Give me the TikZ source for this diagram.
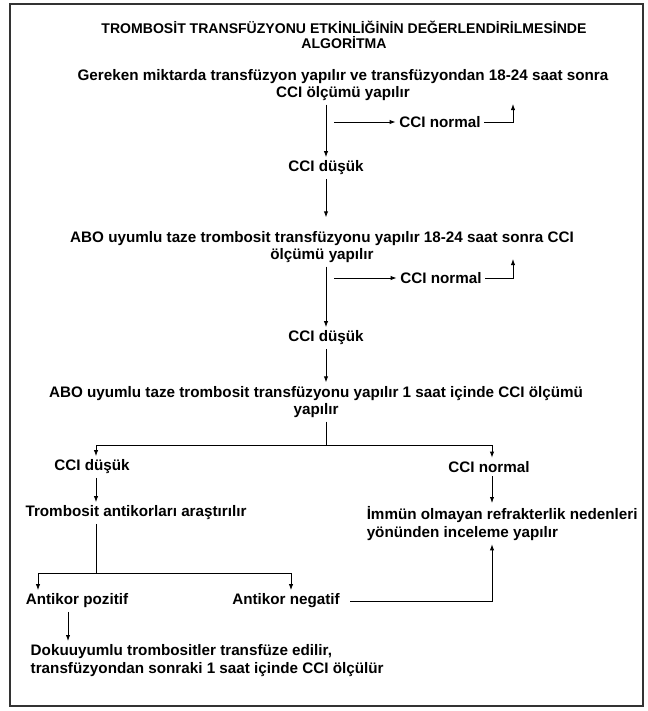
\documentclass[tikz,border=0pt]{standalone}
\usepackage{fontspec}
\setmainfont{Liberation Sans}
\usetikzlibrary{arrows.meta,positioning}

\begin{document}
\begin{tikzpicture}[x=0.3mm, y=-0.3mm,
  titletext/.style={align=center, font=\fontsize{12}{13}\selectfont\bfseries, inner sep=2pt},
  steptext/.style={align=center, font=\fontsize{13}{15}\selectfont\bfseries, inner sep=3pt},
  lefttext/.style={align=left, font=\fontsize{13}{15}\selectfont\bfseries, inner sep=3pt},
  flowarrow/.style={-{Latex[length=1.8mm,width=1.3mm]}, line width=0.7pt},
  flowline/.style={line width=0.7pt}
]
\useasboundingbox (0,0) rectangle (648,711);

% Frame
\draw[line width=1.5pt, black!80] (10,4) rectangle (643,706);

% Title
\node[titletext] (title) at (344,35) {TROMBOSİT TRANSFÜZYONU ETKİNLİĞİNİN DEĞERLENDİRİLMESİNDE\\ALGORİTMA};

% 1. First transfusion
\node[steptext] (step1) at (343,85) {Gereken miktarda transfüzyon yapılır ve transfüzyondan 18-24 saat sonra\\CCI ölçümü yapılır};
\node[steptext] (low1) at (326,168) {CCI düşük};
\node[steptext] (norm1) at (440,122) {CCI normal};
\coordinate (tap1) at (334,122);
\coordinate (back1) at (513,104);
\draw[flowarrow] (step1.south -| low1.north) -- (low1.north);
\draw[flowarrow] (tap1) -- (norm1.west);
\draw[flowarrow] (norm1.east) -| (back1);

% 2. ABO compatible, 18-24 h
\node[steptext] (step2) at (322,247) {ABO uyumlu taze trombosit transfüzyonu yapılır 18-24 saat sonra CCI\\ölçümü yapılır};
\draw[flowarrow, shorten >=3mm] (low1.south) -- (low1.south |- step2.north);
\node[steptext] (low2) at (326,338) {CCI düşük};
\node[steptext] (norm2) at (441,278) {CCI normal};
\coordinate (tap2) at (334,278);
\coordinate (back2) at (513,259);
\draw[flowarrow] (step2.south -| low2.north) -- (low2.north);
\draw[flowarrow] (tap2) -- (norm2.west);
\draw[flowarrow] (norm2.east) -| (back2);

% 3. ABO compatible, 1 h
\node[steptext] (step3) at (316,402) {ABO uyumlu taze trombosit transfüzyonu yapılır 1 saat içinde CCI ölçümü\\yapılır};
\draw[flowarrow] (low2.south) -- (low2.south |- step3.north);

% Fork: low / normal
\node[steptext] (low3) at (92,467) {CCI düşük};
\node[steptext] (norm3) at (489,467) {CCI normal};
\coordinate (fork1) at (326,445);
\draw[flowline] (step3.south -| fork1) -- (fork1);
\draw[flowarrow] (fork1) -| (low3.north -| 96,0);
\draw[flowarrow] (fork1) -| (norm3.north -| 492,0);

% Antibody search / non-immune causes
\node[steptext] (search) at (136,513) {Trombosit antikorları araştırılır};
\node[lefttext, anchor=north west] (nonimm) at (363,503) {İmmün olmayan refrakterlik nedenleri\\yönünden inceleme yapılır};
\draw[flowarrow] (low3.south -| 96,0) -- (search.north -| 96,0);
\draw[flowarrow] (norm3.south -| 492,0) -- (nonimm.north -| 492,0);

% Fork: positive / negative
\node[steptext] (pos) at (77,601) {Antikor pozitif};
\node[steptext] (neg) at (286,601) {Antikor negatif};
\coordinate (fork2) at (96,573);
\draw[flowline] (search.south -| fork2) -- (fork2);
\draw[flowarrow] (fork2) -| (pos.north -| 38,0);
\draw[flowarrow] (fork2) -| (neg.north -| 291,0);
\draw[flowarrow] ([xshift=2mm]neg.east) -| (nonimm.south -| 492,0);

% Crossmatched platelets
\node[lefttext, anchor=north west] (match) at (27,641) {Dokuuyumlu trombositler transfüze edilir,\\transfüzyondan sonraki 1 saat içinde CCI ölçülür};
\draw[flowarrow] (pos.south -| 68,0) -- (match.north -| 68,0);

\end{tikzpicture}
\end{document}
